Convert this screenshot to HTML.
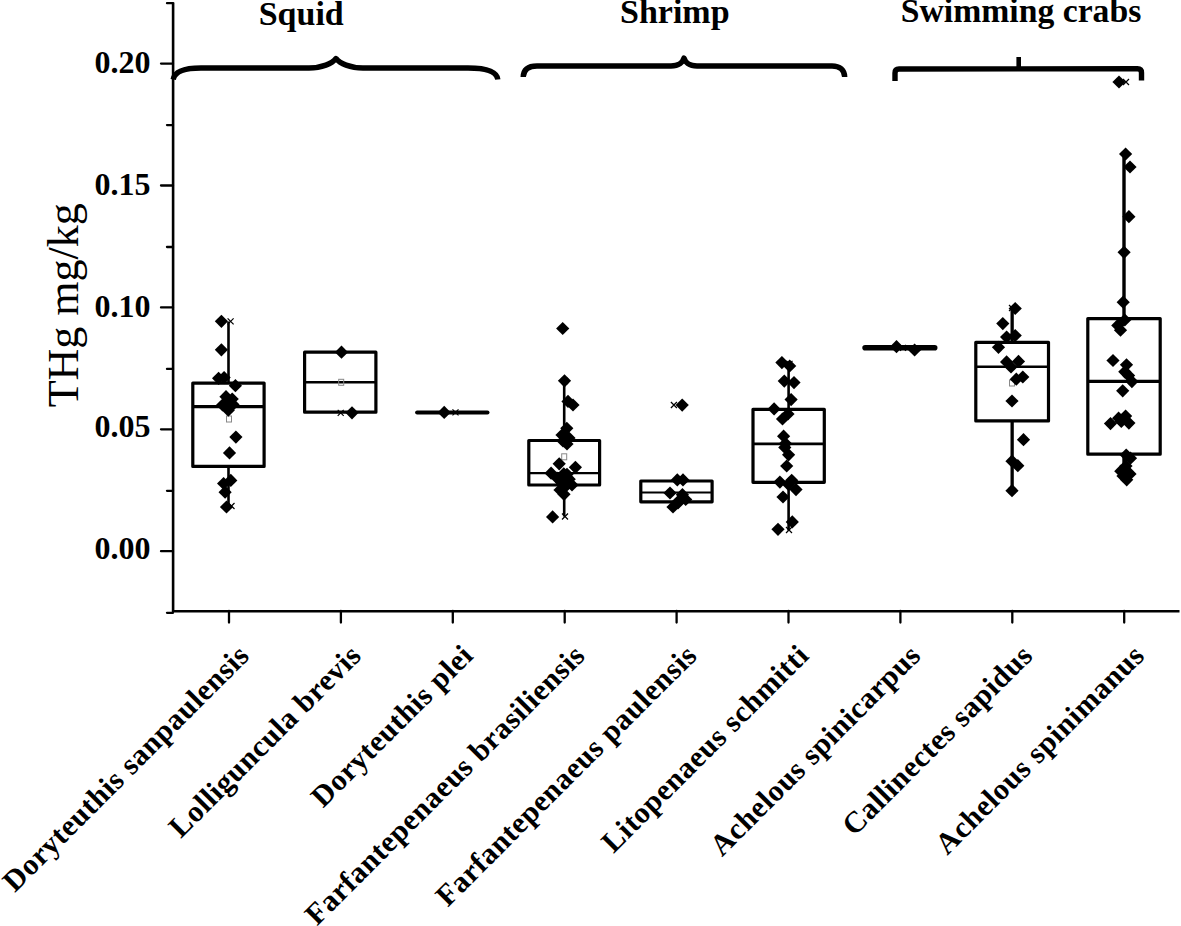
<!DOCTYPE html><html><head><meta charset="utf-8"><style>html,body{margin:0;padding:0;background:#fff;}svg{display:block;}text{font-family:"Liberation Serif",serif;}</style></head><body>
<svg width="1181" height="926" viewBox="0 0 1181 926">
<g stroke="#000" stroke-width="2.3" fill="none" stroke-linecap="round">
<path d="M173.1,2.5 V611.3 H1179.5" stroke-width="2.6" stroke-linecap="butt"/>
<path d="M161,551.2 H173"/>
<path d="M161,429.3 H173"/>
<path d="M161,307.4 H173"/>
<path d="M161,185.5 H173"/>
<path d="M161,63.6 H173"/>
<path d="M167,612.8 H173"/>
<path d="M167,490.8 H173"/>
<path d="M167,368.9 H173"/>
<path d="M167,247.0 H173"/>
<path d="M167,125.1 H173"/>
<path d="M167,3.2 H173"/>
<path d="M229.0,611 V622.6"/>
<path d="M340.9,611 V622.6"/>
<path d="M452.8,611 V622.6"/>
<path d="M564.7,611 V622.6"/>
<path d="M676.6,611 V622.6"/>
<path d="M788.5,611 V622.6"/>
<path d="M900.4,611 V622.6"/>
<path d="M1012.3,611 V622.6"/>
<path d="M1124.2,611 V622.6"/>
</g>
<g font-weight="bold" font-size="32" text-anchor="end">
<text x="150.5" y="558.5">0.00</text>
<text x="150.5" y="436.7">0.05</text>
<text x="150.5" y="316.7">0.10</text>
<text x="150.5" y="194.8">0.15</text>
<text x="150.5" y="72.7">0.20</text>
</g>
<text font-size="44" transform="translate(78,407.3) rotate(-90)">THg mg/kg</text>
<g font-weight="bold" font-size="34">
<text x="258.7" y="25">Squid</text>
<text x="620" y="22.7">Shrimp</text>
<text x="900.8" y="22" font-size="33.7">Swimming crabs</text>
</g>
<g stroke="#000" stroke-width="5.4" fill="none" stroke-linecap="butt" stroke-linejoin="round">
<path d="M173.2,79.5 C174.5,72 183,68 201,68 L309,68 C322,68 332,63.5 336,58.5 C340,63.5 350,68 363,68 L468,68 C488,68 497,72.5 497.8,79.5"/>
<path d="M523.2,77 C523.5,70 528,66 537,66 L671,66 C679,66 683,62 684,58 C685,62 689,66 697,66 L832,66 C840,66 844.5,70 844.7,77"/>
<path d="M895,81 L895,73 Q895,69 899,69 L1137.5,68.7 Q1141.5,68.7 1141.5,72.7 L1141.5,80.5"/>
<path d="M1018.7,69 V57" stroke-width="4.6"/>
</g>
<g stroke="#000" stroke-width="3.2" fill="none" stroke-linecap="butt" stroke-linejoin="round">
<path d="M228.5,321.4 V383.1 M228.5,466.4 V506.0" stroke-width="2.6" stroke-linecap="butt"/>
<rect x="192.8" y="383.1" width="71.3" height="83.3"/>
<path d="M192.8,406.6 H264.1" stroke-width="3.4"/>
<rect x="304.6" y="352.2" width="71.3" height="60.0"/>
<path d="M304.6,382.3 H375.8" stroke-width="2.4"/>
<path d="M417.09999999999997,412.4 H487.50000000000006" stroke-width="4.0" stroke-linecap="round"/>
<path d="M564.2,381.0 V440.5 M564.2,485.0 V516.5" stroke-width="2.6" stroke-linecap="butt"/>
<rect x="528.8" y="440.5" width="70.8" height="44.5"/>
<path d="M528.8,473.2 H599.6" stroke-width="2.3"/>
<rect x="640.8" y="481.0" width="71.3" height="20.8"/>
<path d="M640.8,492.5 H712.1" stroke-width="2.2"/>
<path d="M788.6,363.0 V409.3 M788.6,482.3 V530.5" stroke-width="2.6" stroke-linecap="butt"/>
<rect x="753.0" y="409.3" width="71.3" height="73.0"/>
<path d="M753.0,443.9 H824.2" stroke-width="2.8"/>
<path d="M865.0999999999999,347.8 H934.7" stroke-width="5.6" stroke-linecap="round"/>
<path d="M1012.15,308.0 V342.3 M1012.15,420.9 V490.7" stroke-width="3.3" stroke-linecap="butt"/>
<rect x="975.8" y="342.3" width="72.7" height="78.6"/>
<path d="M975.8,366.8 H1048.5" stroke-width="2.4"/>
<path d="M1124.0,154.0 V318.6 M1124.0,454.2 V481.6" stroke-width="3.4" stroke-linecap="butt"/>
<rect x="1087.8" y="318.6" width="72.4" height="135.6"/>
<path d="M1087.8,381.4 H1160.2" stroke-width="3.3"/>
</g>
<g stroke="#888" stroke-width="1" fill="none">
<rect x="226.5" y="416" width="5" height="6"/>
<rect x="338.7" y="379.3" width="5" height="6"/>
<rect x="561.7" y="453.8" width="5" height="6"/>
<rect x="1009.5" y="380" width="5" height="6"/>
</g>
<g stroke="#000" stroke-width="1.2" fill="none">
<path d="M227.6,318.4 L233.6,324.4 M233.6,318.4 L227.6,324.4"/>
<path d="M228.5,503 L234.5,509 M234.5,503 L228.5,509"/>
<path d="M337.7,409.8 L343.7,415.8 M343.7,409.8 L337.7,415.8"/>
<path d="M452.5,409.4 L458.5,415.4 M458.5,409.4 L452.5,415.4"/>
<path d="M562,513.5 L568,519.5 M568,513.5 L562,519.5"/>
<path d="M562,378 L568,384 M568,378 L562,384"/>
<path d="M670.9,402 L676.9,408 M676.9,402 L670.9,408"/>
<path d="M786.5,360.8 L792.5,366.8 M792.5,360.8 L786.5,366.8"/>
<path d="M786,527 L792,533 M792,527 L786,533"/>
<path d="M1123,79 L1129,85 M1129,79 L1123,85"/>
<path d="M1009,305 L1015,311 M1015,305 L1009,311"/>
<path d="M1009,487.7 L1015,493.7 M1015,487.7 L1009,493.7"/>
<path d="M900,344.8 L906,350.8 M906,344.8 L900,350.8"/>
</g>
<g fill="#000">
<path d="M221.4,314.7 L228.0,321.3 L221.4,327.9 L214.8,321.3Z"/>
<path d="M221.4,343.2 L228.0,349.8 L221.4,356.4 L214.8,349.8Z"/>
<path d="M218.6,371.7 L225.2,378.3 L218.6,384.9 L212.0,378.3Z"/>
<path d="M224.1,371.0 L230.7,377.6 L224.1,384.2 L217.5,377.6Z"/>
<path d="M235.4,379.1 L242.0,385.7 L235.4,392.3 L228.8,385.7Z"/>
<path d="M226.0,390.1 L232.6,396.7 L226.0,403.3 L219.4,396.7Z"/>
<path d="M232.2,392.4 L238.8,399.0 L232.2,405.6 L225.6,399.0Z"/>
<path d="M226.4,397.3 L233.0,403.9 L226.4,410.5 L219.8,403.9Z"/>
<path d="M228.3,403.6 L234.9,410.2 L228.3,416.8 L221.7,410.2Z"/>
<path d="M222.5,398.4 L229.1,405.0 L222.5,411.6 L215.9,405.0Z"/>
<path d="M233.0,397.9 L239.6,404.5 L233.0,411.1 L226.4,404.5Z"/>
<path d="M235.9,430.5 L242.5,437.1 L235.9,443.7 L229.3,437.1Z"/>
<path d="M229.5,446.3 L236.1,452.9 L229.5,459.5 L222.9,452.9Z"/>
<path d="M223.6,476.9 L230.2,483.5 L223.6,490.1 L217.0,483.5Z"/>
<path d="M230.8,473.8 L237.4,480.4 L230.8,487.0 L224.2,480.4Z"/>
<path d="M225.1,485.6 L231.7,492.2 L225.1,498.8 L218.5,492.2Z"/>
<path d="M226.5,500.4 L233.1,507.0 L226.5,513.6 L219.9,507.0Z"/>
<path d="M341.5,345.6 L348.1,352.2 L341.5,358.8 L334.9,352.2Z"/>
<path d="M352.0,406.2 L358.6,412.8 L352.0,419.4 L345.4,412.8Z"/>
<path d="M444.2,405.8 L450.8,412.4 L444.2,419.0 L437.6,412.4Z"/>
<path d="M562.7,321.9 L569.3,328.5 L562.7,335.1 L556.1,328.5Z"/>
<path d="M564.5,374.2 L571.1,380.8 L564.5,387.4 L557.9,380.8Z"/>
<path d="M568.0,394.8 L574.6,401.4 L568.0,408.0 L561.4,401.4Z"/>
<path d="M573.0,398.4 L579.6,405.0 L573.0,411.6 L566.4,405.0Z"/>
<path d="M566.8,421.7 L573.4,428.3 L566.8,434.9 L560.2,428.3Z"/>
<path d="M563.0,434.4 L569.6,441.0 L563.0,447.6 L556.4,441.0Z"/>
<path d="M569.0,431.4 L575.6,438.0 L569.0,444.6 L562.4,438.0Z"/>
<path d="M567.0,437.4 L573.6,444.0 L567.0,450.6 L560.4,444.0Z"/>
<path d="M562.0,428.4 L568.6,435.0 L562.0,441.6 L555.4,435.0Z"/>
<path d="M559.2,457.2 L565.8,463.8 L559.2,470.4 L552.6,463.8Z"/>
<path d="M575.4,460.7 L582.0,467.3 L575.4,473.9 L568.8,467.3Z"/>
<path d="M551.1,466.6 L557.7,473.2 L551.1,479.8 L544.5,473.2Z"/>
<path d="M563.8,467.2 L570.4,473.8 L563.8,480.4 L557.2,473.8Z"/>
<path d="M567.0,467.7 L573.6,474.3 L567.0,480.9 L560.4,474.3Z"/>
<path d="M569.2,472.6 L575.8,479.2 L569.2,485.8 L562.6,479.2Z"/>
<path d="M561.6,475.8 L568.2,482.4 L561.6,489.0 L555.0,482.4Z"/>
<path d="M565.0,480.4 L571.6,487.0 L565.0,493.6 L558.4,487.0Z"/>
<path d="M557.0,471.4 L563.6,478.0 L557.0,484.6 L550.4,478.0Z"/>
<path d="M572.0,478.4 L578.6,485.0 L572.0,491.6 L565.4,485.0Z"/>
<path d="M560.0,483.4 L566.6,490.0 L560.0,496.6 L553.4,490.0Z"/>
<path d="M564.0,487.7 L570.6,494.3 L564.0,500.9 L557.4,494.3Z"/>
<path d="M552.6,510.3 L559.2,516.9 L552.6,523.5 L546.0,516.9Z"/>
<path d="M682.2,398.5 L688.8,405.1 L682.2,411.7 L675.6,405.1Z"/>
<path d="M677.3,473.3 L683.9,479.9 L677.3,486.5 L670.7,479.9Z"/>
<path d="M683.0,473.3 L689.6,479.9 L683.0,486.5 L676.4,479.9Z"/>
<path d="M670.0,486.4 L676.6,493.0 L670.0,499.6 L663.4,493.0Z"/>
<path d="M682.4,488.1 L689.0,494.7 L682.4,501.3 L675.8,494.7Z"/>
<path d="M685.7,492.9 L692.3,499.5 L685.7,506.1 L679.1,499.5Z"/>
<path d="M673.0,500.4 L679.6,507.0 L673.0,513.6 L666.4,507.0Z"/>
<path d="M678.0,496.4 L684.6,503.0 L678.0,509.6 L671.4,503.0Z"/>
<path d="M677.9,495.2 L684.5,501.8 L677.9,508.4 L671.3,501.8Z"/>
<path d="M781.9,356.0 L788.5,362.6 L781.9,369.2 L775.3,362.6Z"/>
<path d="M789.7,359.4 L796.3,366.0 L789.7,372.6 L783.1,366.0Z"/>
<path d="M784.3,374.5 L790.9,381.1 L784.3,387.7 L777.7,381.1Z"/>
<path d="M794.0,376.0 L800.6,382.6 L794.0,389.2 L787.4,382.6Z"/>
<path d="M791.1,393.0 L797.7,399.6 L791.1,406.2 L784.5,399.6Z"/>
<path d="M774.1,402.3 L780.7,408.9 L774.1,415.5 L767.5,408.9Z"/>
<path d="M782.5,412.4 L789.1,419.0 L782.5,425.6 L775.9,419.0Z"/>
<path d="M788.0,407.4 L794.6,414.0 L788.0,420.6 L781.4,414.0Z"/>
<path d="M783.6,429.6 L790.2,436.2 L783.6,442.8 L777.0,436.2Z"/>
<path d="M785.5,437.0 L792.1,443.6 L785.5,450.2 L778.9,443.6Z"/>
<path d="M784.8,440.8 L791.4,447.4 L784.8,454.0 L778.2,447.4Z"/>
<path d="M788.6,448.2 L795.2,454.8 L788.6,461.4 L782.0,454.8Z"/>
<path d="M786.7,459.4 L793.3,466.0 L786.7,472.6 L780.1,466.0Z"/>
<path d="M779.9,475.5 L786.5,482.1 L779.9,488.7 L773.3,482.1Z"/>
<path d="M791.7,473.7 L798.3,480.3 L791.7,486.9 L785.1,480.3Z"/>
<path d="M796.0,483.0 L802.6,489.6 L796.0,496.2 L789.4,489.6Z"/>
<path d="M788.6,478.0 L795.2,484.6 L788.6,491.2 L782.0,484.6Z"/>
<path d="M783.0,490.4 L789.6,497.0 L783.0,503.6 L776.4,497.0Z"/>
<path d="M792.3,515.3 L798.9,521.9 L792.3,528.5 L785.7,521.9Z"/>
<path d="M778.0,522.7 L784.6,529.3 L778.0,535.9 L771.4,529.3Z"/>
<path d="M896.5,340.1 L903.1,346.7 L896.5,353.3 L889.9,346.7Z"/>
<path d="M914.6,343.4 L921.2,350.0 L914.6,356.6 L908.0,350.0Z"/>
<path d="M1015.2,301.9 L1021.8,308.5 L1015.2,315.1 L1008.6,308.5Z"/>
<path d="M1002.8,317.0 L1009.4,323.6 L1002.8,330.2 L996.2,323.6Z"/>
<path d="M1006.6,330.5 L1013.2,337.1 L1006.6,343.7 L1000.0,337.1Z"/>
<path d="M1015.2,328.9 L1021.8,335.5 L1015.2,342.1 L1008.6,335.5Z"/>
<path d="M998.5,340.7 L1005.1,347.3 L998.5,353.9 L991.9,347.3Z"/>
<path d="M1006.6,355.3 L1013.2,361.9 L1006.6,368.5 L1000.0,361.9Z"/>
<path d="M1018.5,354.8 L1025.1,361.4 L1018.5,368.0 L1011.9,361.4Z"/>
<path d="M1011.0,360.4 L1017.6,367.0 L1011.0,373.6 L1004.4,367.0Z"/>
<path d="M1022.8,370.4 L1029.4,377.0 L1022.8,383.6 L1016.2,377.0Z"/>
<path d="M1016.3,372.6 L1022.9,379.2 L1016.3,385.8 L1009.7,379.2Z"/>
<path d="M1012.0,394.4 L1018.6,401.0 L1012.0,407.6 L1005.4,401.0Z"/>
<path d="M1023.5,433.1 L1030.1,439.7 L1023.5,446.3 L1016.9,439.7Z"/>
<path d="M1012.0,454.6 L1018.6,461.2 L1012.0,467.8 L1005.4,461.2Z"/>
<path d="M1017.8,459.1 L1024.4,465.7 L1017.8,472.3 L1011.2,465.7Z"/>
<path d="M1012.0,484.1 L1018.6,490.7 L1012.0,497.3 L1005.4,490.7Z"/>
<path d="M1119.0,75.4 L1125.6,82.0 L1119.0,88.6 L1112.4,82.0Z"/>
<path d="M1125.6,147.4 L1132.2,154.0 L1125.6,160.6 L1119.0,154.0Z"/>
<path d="M1130.0,160.4 L1136.6,167.0 L1130.0,173.6 L1123.4,167.0Z"/>
<path d="M1128.9,210.1 L1135.5,216.7 L1128.9,223.3 L1122.3,216.7Z"/>
<path d="M1124.1,245.7 L1130.7,252.3 L1124.1,258.9 L1117.5,252.3Z"/>
<path d="M1123.2,295.6 L1129.8,302.2 L1123.2,308.8 L1116.6,302.2Z"/>
<path d="M1124.8,313.4 L1131.4,320.0 L1124.8,326.6 L1118.2,320.0Z"/>
<path d="M1117.8,318.8 L1124.4,325.4 L1117.8,332.0 L1111.2,325.4Z"/>
<path d="M1120.5,323.6 L1127.1,330.2 L1120.5,336.8 L1113.9,330.2Z"/>
<path d="M1113.0,353.9 L1119.6,360.5 L1113.0,367.1 L1106.4,360.5Z"/>
<path d="M1126.5,358.2 L1133.1,364.8 L1126.5,371.4 L1119.9,364.8Z"/>
<path d="M1124.8,365.2 L1131.4,371.8 L1124.8,378.4 L1118.2,371.8Z"/>
<path d="M1128.6,369.0 L1135.2,375.6 L1128.6,382.2 L1122.0,375.6Z"/>
<path d="M1131.9,375.0 L1138.5,381.6 L1131.9,388.2 L1125.3,381.6Z"/>
<path d="M1122.7,384.2 L1129.3,390.8 L1122.7,397.4 L1116.1,390.8Z"/>
<path d="M1110.5,417.0 L1117.1,423.6 L1110.5,430.2 L1103.9,423.6Z"/>
<path d="M1118.6,411.6 L1125.2,418.2 L1118.6,424.8 L1112.0,418.2Z"/>
<path d="M1125.6,409.5 L1132.2,416.1 L1125.6,422.7 L1119.0,416.1Z"/>
<path d="M1121.3,414.9 L1127.9,421.5 L1121.3,428.1 L1114.7,421.5Z"/>
<path d="M1128.9,416.5 L1135.5,423.1 L1128.9,429.7 L1122.3,423.1Z"/>
<path d="M1126.2,448.4 L1132.8,455.0 L1126.2,461.6 L1119.6,455.0Z"/>
<path d="M1130.5,451.6 L1137.1,458.2 L1130.5,464.8 L1123.9,458.2Z"/>
<path d="M1120.8,464.6 L1127.4,471.2 L1120.8,477.8 L1114.2,471.2Z"/>
<path d="M1130.0,467.3 L1136.6,473.9 L1130.0,480.5 L1123.4,473.9Z"/>
<path d="M1126.7,473.2 L1133.3,479.8 L1126.7,486.4 L1120.1,479.8Z"/>
<path d="M1124.6,466.2 L1131.2,472.8 L1124.6,479.4 L1118.0,472.8Z"/>
<path d="M1126.0,459.4 L1132.6,466.0 L1126.0,472.6 L1119.4,466.0Z"/>
<path d="M1123.0,469.4 L1129.6,476.0 L1123.0,482.6 L1116.4,476.0Z"/>
</g>
<g font-weight="bold" font-size="30" letter-spacing="0.55" text-anchor="end">
<text transform="translate(251.0,657) rotate(-45)">Doryteuthis sanpaulensis</text>
<text transform="translate(362.9,657) rotate(-45)">Lolliguncula brevis</text>
<text transform="translate(474.8,657) rotate(-45)">Doryteuthis plei</text>
<text transform="translate(586.7,657) rotate(-45)">Farfantepenaeus brasiliensis</text>
<text transform="translate(698.6,657) rotate(-45)">Farfantepenaeus paulensis</text>
<text transform="translate(810.5,657) rotate(-45)">Litopenaeus schmitti</text>
<text transform="translate(922.4,657) rotate(-45)">Achelous spinicarpus</text>
<text transform="translate(1034.3,657) rotate(-45)">Callinectes sapidus</text>
<text transform="translate(1146.2,657) rotate(-45)">Achelous spinimanus</text>
</g>
</svg></body></html>
